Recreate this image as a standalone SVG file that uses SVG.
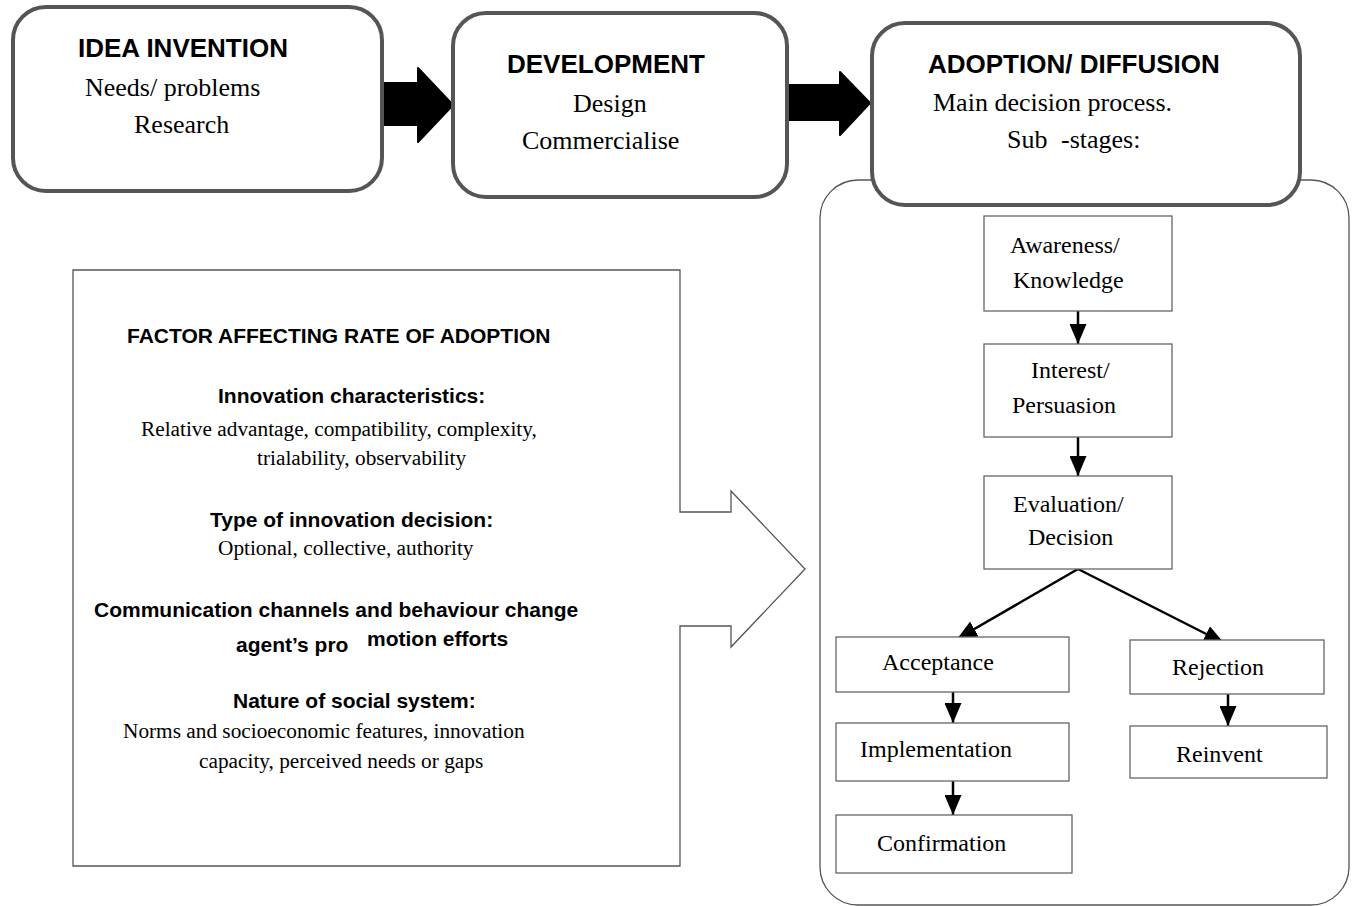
<svg xmlns="http://www.w3.org/2000/svg" width="1357" height="906" viewBox="0 0 1357 906">
  <style>
    .stage { fill: #fff; stroke: #555; stroke-width: 4; }
    .frame { fill: none; stroke: #555; stroke-width: 1.3; }
    .step { fill: #fff; stroke: #666; stroke-width: 1.3; }
    .block { fill: #000; stroke: #000; stroke-width: 2; stroke-linejoin: round; }
    .link { stroke: #000; stroke-width: 2.5; fill: none; }
    .head { font-family: "Liberation Sans", Arial, sans-serif; font-weight: bold; font-size: 26px; fill: #000; }
    .body { font-family: "Liberation Serif", "Times New Roman", serif; font-size: 26px; fill: #000; }
    .fhead { font-family: "Liberation Sans", Arial, sans-serif; font-weight: bold; font-size: 21px; fill: #000; }
    .fbody { font-family: "Liberation Serif", "Times New Roman", serif; font-size: 21.3px; fill: #000; }
    .slabel { font-family: "Liberation Serif", "Times New Roman", serif; font-size: 24px; fill: #000; }
  </style>
  <defs>
    <marker id="tip" markerUnits="userSpaceOnUse" markerWidth="20" markerHeight="17" refX="20" refY="8.5" orient="auto">
      <path d="M0,0 L20,8.5 L0,17 Z" fill="#000"/>
    </marker>
  </defs>

  <rect width="1357" height="906" fill="#fff"/>

  <!-- outer frame holding the adoption sub-stages -->
  <rect id="substage-frame" class="frame" x="820" y="180" width="529" height="725" rx="38"/>

  <!-- block arrows between the main stages -->
  <g id="stage-arrows">
    <path class="block" d="M380,83 H418 V68 L453,105 L418,142 V125 H380 Z"/>
    <path class="block" d="M786,85 H840 V72 L870,103 L840,135 V120 H786 Z"/>
  </g>

  <g id="idea-invention">
    <rect class="stage" x="13" y="7" width="369" height="184" rx="33"/>
    <text class="head" x="78" y="57">IDEA INVENTION</text>
    <text class="body" x="85" y="96">Needs/ problems</text>
    <text class="body" x="134" y="133">Research</text>
  </g>

  <g id="development">
    <rect class="stage" x="453" y="13" width="334" height="184" rx="33"/>
    <text class="head" x="507" y="73">DEVELOPMENT</text>
    <text class="body" x="573" y="112">Design</text>
    <text class="body" x="522" y="149">Commercialise</text>
  </g>

  <g id="adoption-diffusion">
    <rect class="stage" x="872" y="23" width="428" height="182" rx="33"/>
    <text class="head" x="928" y="73">ADOPTION/ DIFFUSION</text>
    <text class="body" x="933" y="111">Main decision process.</text>
    <text class="body" x="1007" y="148">Sub<tspan x="1061">-stages:</tspan></text>
  </g>

  <!-- callout listing the factors affecting the rate of adoption -->
  <g id="adoption-factors">
    <path class="frame" stroke="#666" fill="#fff" d="M73,270 H680 V512 H731 V491 L805,569 L731,647 V626 H680 V866 H73 Z"/>
    <text class="fhead" x="127" y="343">FACTOR AFFECTING RATE OF ADOPTION</text>
    <text class="fhead" x="218" y="403">Innovation characteristics:</text>
    <text class="fbody" x="141" y="436">Relative advantage, compatibility, complexity,</text>
    <text class="fbody" x="257" y="465">trialability, observability</text>
    <text class="fhead" x="210" y="527">Type of innovation decision:</text>
    <text class="fbody" x="218" y="555">Optional, collective, authority</text>
    <text class="fhead" x="94" y="617">Communication channels and behaviour change</text>
    <text class="fhead" x="236" y="652">agent’s pro<tspan x="367" y="646">motion efforts</tspan></text>
    <text class="fhead" x="233" y="708">Nature of social system:</text>
    <text class="fbody" x="123" y="738">Norms and socioeconomic features, innovation</text>
    <text class="fbody" x="199" y="768">capacity, perceived needs or gaps</text>
  </g>

  <!-- connectors of the decision process -->
  <g id="connectors">
    <line class="link" x1="1078" y1="311" x2="1078" y2="344" marker-end="url(#tip)"/>
    <line class="link" x1="1078" y1="437" x2="1078" y2="476" marker-end="url(#tip)"/>
    <line class="link" x1="1078" y1="569" x2="957" y2="639" marker-end="url(#tip)"/>
    <line class="link" x1="1078" y1="569" x2="1224" y2="643" marker-end="url(#tip)"/>
    <line class="link" x1="953" y1="692" x2="953" y2="723" marker-end="url(#tip)"/>
    <line class="link" x1="953" y1="781" x2="953" y2="815" marker-end="url(#tip)"/>
    <line class="link" x1="1228" y1="694" x2="1228" y2="726" marker-end="url(#tip)"/>
  </g>

  <g id="awareness">
    <rect class="step" x="984" y="216" width="188" height="95"/>
    <text class="slabel" x="1010" y="253">Awareness/</text>
    <text class="slabel" x="1013" y="288">Knowledge</text>
  </g>
  <g id="interest">
    <rect class="step" x="984" y="344" width="188" height="93"/>
    <text class="slabel" x="1031" y="378">Interest/</text>
    <text class="slabel" x="1012" y="413">Persuasion</text>
  </g>
  <g id="evaluation">
    <rect class="step" x="984" y="476" width="188" height="93"/>
    <text class="slabel" x="1013" y="512">Evaluation/</text>
    <text class="slabel" x="1028" y="545">Decision</text>
  </g>
  <g id="acceptance">
    <rect class="step" x="836" y="637" width="233" height="55"/>
    <text class="slabel" x="882" y="670">Acceptance</text>
  </g>
  <g id="implementation">
    <rect class="step" x="836" y="723" width="233" height="58"/>
    <text class="slabel" x="860" y="757">Implementation</text>
  </g>
  <g id="confirmation">
    <rect class="step" x="836" y="815" width="236" height="58"/>
    <text class="slabel" x="877" y="851">Confirmation</text>
  </g>
  <g id="rejection">
    <rect class="step" x="1130" y="640" width="194" height="54"/>
    <text class="slabel" x="1172" y="675">Rejection</text>
  </g>
  <g id="reinvent">
    <rect class="step" x="1130" y="726" width="197" height="52"/>
    <text class="slabel" x="1176" y="762">Reinvent</text>
  </g>
</svg>
